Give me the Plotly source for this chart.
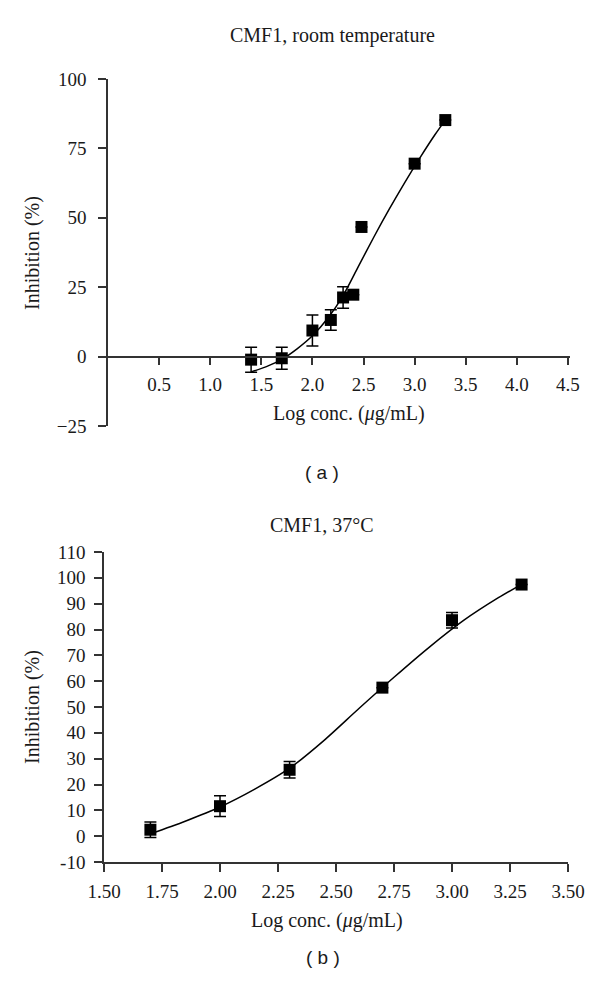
import plotly.graph_objects as go

# ---------------- data ----------------
# (a) room temperature
a_x = [1.40, 1.70, 2.00, 2.18, 2.30, 2.40, 2.48, 3.00, 3.30]
a_y = [-1.1, -0.6, 9.4, 13.2, 21.3, 22.3, 46.7, 69.5, 85.2]
a_err = [4.5, 4.0, 5.6, 3.7, 3.9, 0, 0, 0, 0]
a_fit_x = [1.40, 1.55, 1.70, 1.85, 2.00, 2.15, 2.30, 2.45, 2.60, 2.75, 2.90, 3.05, 3.20, 3.30]
a_fit_y = [-5.5, -3.6, -1.0, 2.8, 7.5, 13.8, 22.0, 32.5, 43.0, 53.0, 62.5, 71.5, 80.0, 85.2]
a_xticks = [0.5, 1.0, 1.5, 2.0, 2.5, 3.0, 3.5, 4.0, 4.5]
a_yticks = [-25, 0, 25, 50, 75, 100]

# (b) 37 °C
b_x = [1.70, 2.00, 2.30, 2.70, 3.00, 3.30]
b_y = [2.5, 11.6, 25.7, 57.5, 83.6, 97.4]
b_err = [3.0, 4.0, 3.2, 0, 3.0, 0]
b_fit_x = [1.70, 1.85, 2.00, 2.15, 2.30, 2.45, 2.60, 2.75, 2.90, 3.05, 3.20, 3.30]
b_fit_y = [0.9, 5.8, 11.3, 18.2, 26.3, 37.2, 49.5, 61.5, 73.0, 83.5, 92.3, 97.5]
b_xticks = [1.50, 1.75, 2.00, 2.25, 2.50, 2.75, 3.00, 3.25, 3.50]
b_yticks = list(range(-10, 111, 10))

# page body has an 8px margin; lay out in target-page pixels and shift
OFF = 8
W, H = 600 - 2 * OFF, 984 - 2 * OFF
SERIF = "Liberation Serif, Times New Roman, serif"
SANS = "Liberation Sans, Arial, sans-serif"
FS = 19
FT = 20


def px(x):
    return (x - OFF) / W


def py(y):
    return 1 - (y - OFF) / H


# pixel layout of the two plot areas (target-page coordinates)
A_L, A_R, A_T, A_B = 108, 570, 79, 426
B_L, B_R, B_T, B_B = 104, 568, 552, 862
a_yrange = [-25, 100]
b_yrange = [-10, 110]

a_dom_y = [py(A_B), py(A_T)]
zero_pos = a_dom_y[0] + (0 - a_yrange[0]) / (a_yrange[1] - a_yrange[0]) * (a_dom_y[1] - a_dom_y[0])

fig = go.Figure()

line_style = dict(color="black", width=1.5)
marker_style = dict(symbol="square", size=12, color="black")
err_style = dict(color="black", thickness=1.5, width=6)

fig.add_trace(go.Scatter(x=a_fit_x, y=a_fit_y, mode="lines",
                         line=dict(shape="spline", smoothing=0.8, **line_style),
                         xaxis="x", yaxis="y", showlegend=False, hoverinfo="skip"))
fig.add_trace(go.Scatter(x=a_x, y=a_y, mode="markers", marker=marker_style,
                         error_y=dict(type="data", array=a_err, visible=True, **err_style),
                         xaxis="x", yaxis="y", showlegend=False))
fig.add_trace(go.Scatter(x=b_fit_x, y=b_fit_y, mode="lines",
                         line=dict(shape="spline", smoothing=0.8, **line_style),
                         xaxis="x2", yaxis="y2", showlegend=False, hoverinfo="skip"))
fig.add_trace(go.Scatter(x=b_x, y=b_y, mode="markers", marker=marker_style,
                         error_y=dict(type="data", array=b_err, visible=True, **err_style),
                         xaxis="x2", yaxis="y2", showlegend=False))

axis_common = dict(showline=True, linecolor="#333333", linewidth=1.5, ticks="outside",
                   ticklen=8, tickwidth=1.5, tickcolor="#333333", showgrid=False, zeroline=False,
                   automargin=False,
                   tickfont=dict(family=SERIF, size=FS, color="#1a1a1a"))

fig.update_layout(
    template="none",
    width=W, height=H,
    margin=dict(l=0, r=0, t=0, b=0, pad=0, autoexpand=False),
    paper_bgcolor="white", plot_bgcolor="white",
    xaxis=dict(domain=[px(A_L), px(A_R)], range=[0, 4.52], anchor="free", position=zero_pos,
               ticklabelstandoff=3,
               tickvals=a_xticks, ticktext=[f"{v:.1f}" for v in a_xticks], **axis_common),
    yaxis=dict(domain=a_dom_y, range=a_yrange, anchor="x", ticklabelstandoff=8,
               tickvals=a_yticks, ticktext=[str(v).replace("-", "\u2212") for v in a_yticks],
               **axis_common),
    xaxis2=dict(domain=[px(B_L), px(B_R)], range=[1.5, 3.5], anchor="y2", ticklabelstandoff=3,
                tickvals=b_xticks, ticktext=[f"{v:.2f}" for v in b_xticks], **axis_common),
    yaxis2=dict(domain=[py(B_B), py(B_T)], range=b_yrange, anchor="x2", ticklabelstandoff=5,
                tickvals=b_yticks, ticktext=[str(v) for v in b_yticks], **axis_common),
)

ann_font = dict(family=SERIF, size=FT, color="#1a1a1a")
annots = [
    dict(text="CMF1, room temperature", x=px(332), y=py(35)),
    dict(text="Log conc. (<i>\u03bc</i>g/mL)", x=px(349), y=py(413)),
    dict(text="Inhibition (%)", x=px(32), y=py(253), textangle=-90),
    dict(text="CMF1, 37\u00b0C", x=px(322), y=py(525)),
    dict(text="Log conc. (<i>\u03bc</i>g/mL)", x=px(327), y=py(920)),
    dict(text="Inhibition (%)", x=px(32), y=py(707), textangle=-90),
]
for a in annots:
    fig.add_annotation(xref="paper", yref="paper", showarrow=False, xanchor="center", yanchor="middle",
                       font=ann_font, **a)

fig.add_annotation(text="( a )", x=px(322), y=py(473), xref="paper", yref="paper", showarrow=False,
                   font=dict(family=SANS, size=19, color="#1a1a1a"))
fig.add_annotation(text="( b )", x=px(323), y=py(970), xref="paper", yref="paper", showarrow=False,
                   font=dict(family=SANS, size=19, color="#1a1a1a"))

fig.write_html("out.html")
